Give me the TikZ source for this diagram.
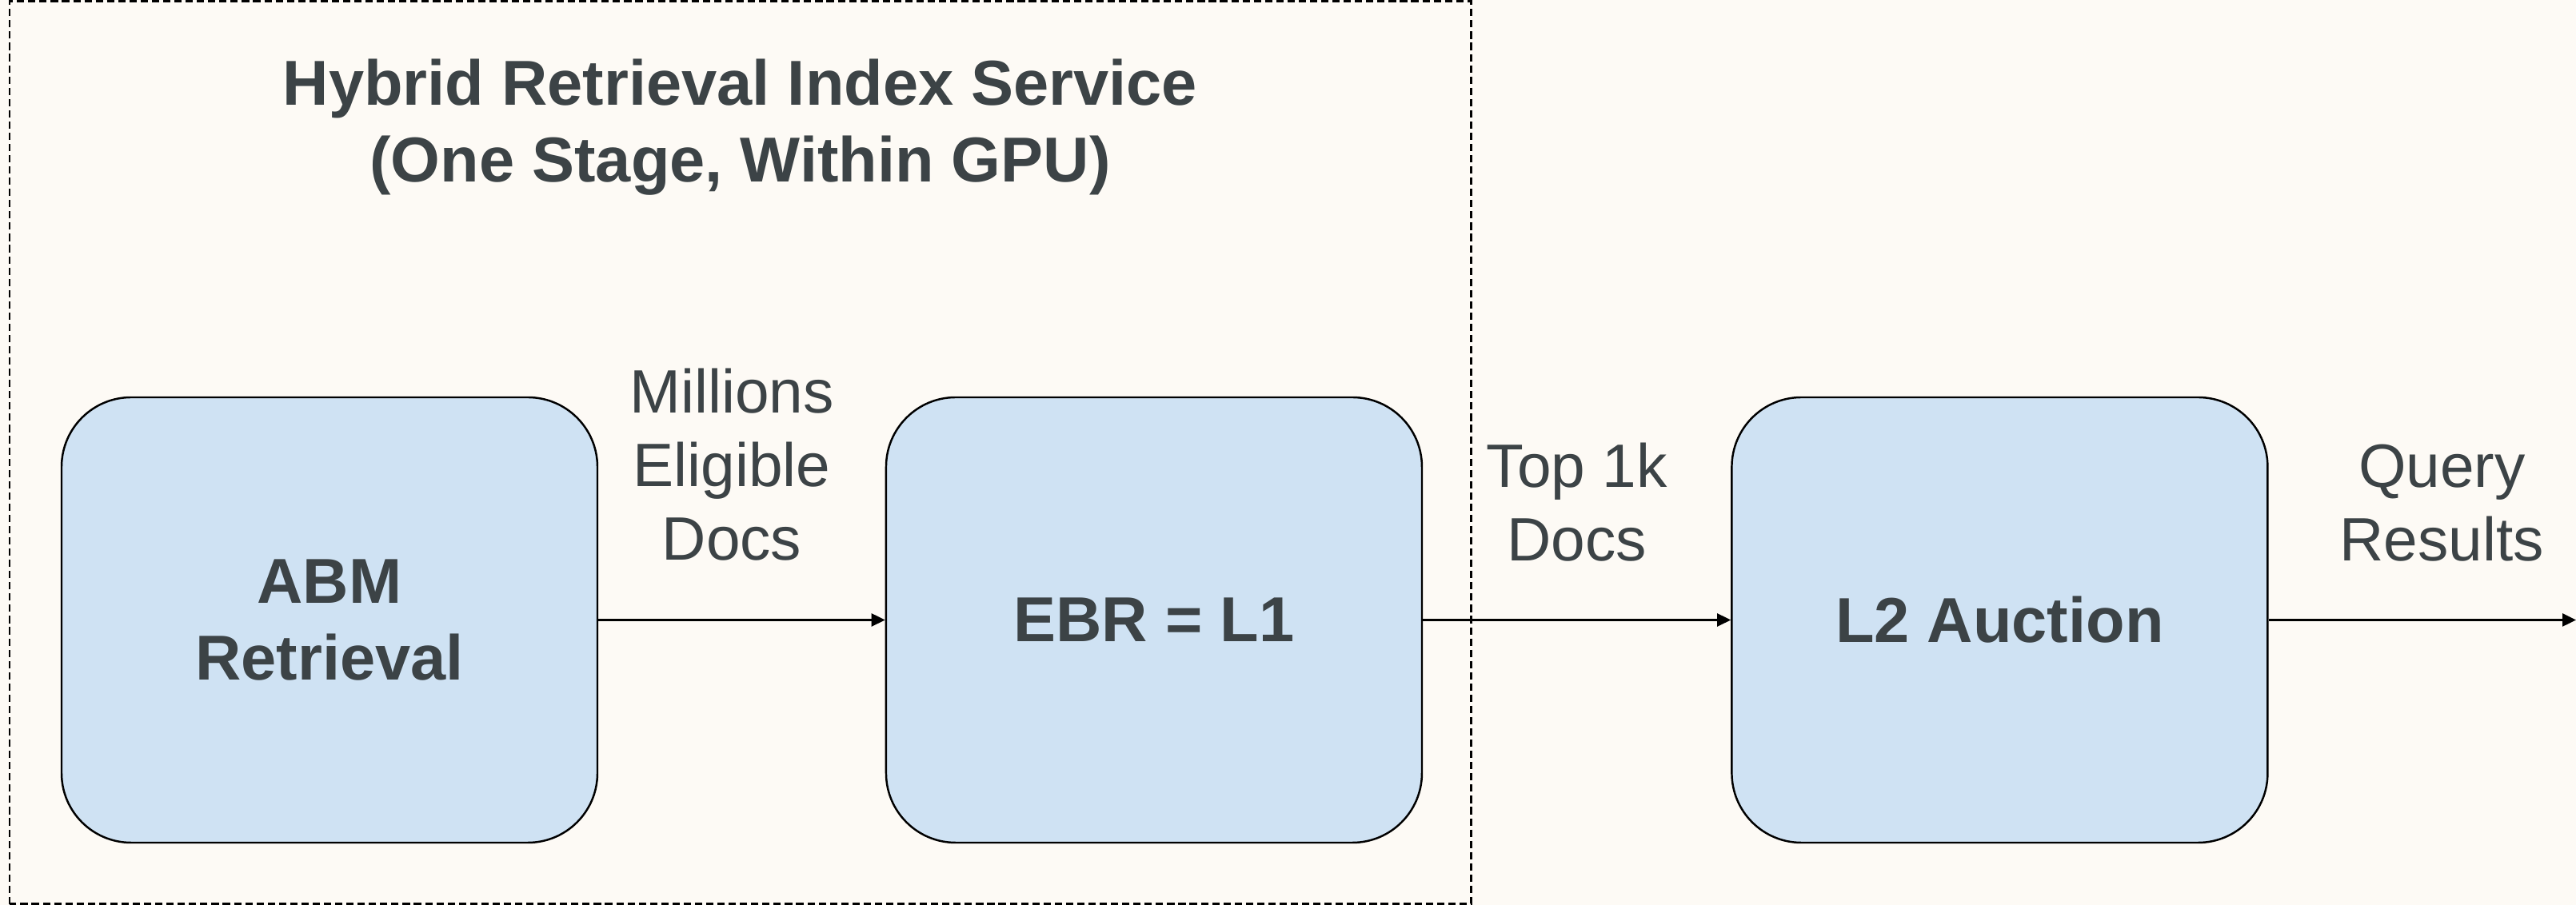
\documentclass[tikz,border=0pt]{standalone}
\usepackage{fontspec}
\setmainfont{Liberation Sans}
\usetikzlibrary{positioning,arrows.meta}

\definecolor{bgcream}{RGB}{253,250,245}
\definecolor{boxblue}{RGB}{207,226,243}
\definecolor{textgray}{RGB}{60,67,70}

\begin{document}
\begin{tikzpicture}[x=1cm,y=1cm,>={Triangle[length=0.17cm,width=0.16cm]},
  stage/.style={draw=black,line width=0.7pt,fill=boxblue,rounded corners=0.87cm,
    minimum width=6.70cm,minimum height=5.57cm,align=center,text=textgray,
    font=\fontsize{22.6}{27.3}\selectfont\bfseries},
  flow/.style={->,line width=0.7pt},
  flowlabel/.style={align=center,text=textgray,inner sep=0pt,
    font=\fontsize{21.8}{26.2}\selectfont}]

\useasboundingbox (0,0) rectangle (32.21,11.32);
\fill[bgcream] (0,0) rectangle (32.21,11.32);

% The service frame
\draw[dash pattern=on 2.6pt off 1.4pt,line width=0.85pt] (0.12,0.01) rectangle (18.39,11.305);
\node[anchor=north,inner sep=0pt,align=center,text=textgray,
  font=\fontsize{22.6}{27.3}\selectfont\bfseries] (title) at (9.255,10.59)
  {Hybrid Retrieval Index Service\\(One Stage, Within GPU)};

% The stages
\node[stage] (abm) at (4.12,3.565) {ABM\\Retrieval};
\node[stage,right=3.585cm of abm] (ebr) {EBR = L1};
\node[stage,right=3.85cm of ebr] (auction) {L2 Auction};
\coordinate (results) at (32.21,3.565);

% The arrows
\draw[flow] (abm) -- node[flowlabel,above=0.73cm,xshift=-0.125cm] {Millions\\Eligible\\Docs} (ebr);
\draw[flow] (ebr) -- node[flowlabel,above=0.72cm] {Top 1k\\Docs} (auction);
\draw[flow] (auction) -- node[flowlabel,above=0.72cm,xshift=0.245cm] {Query\\Results} (results);

\end{tikzpicture}
\end{document}
